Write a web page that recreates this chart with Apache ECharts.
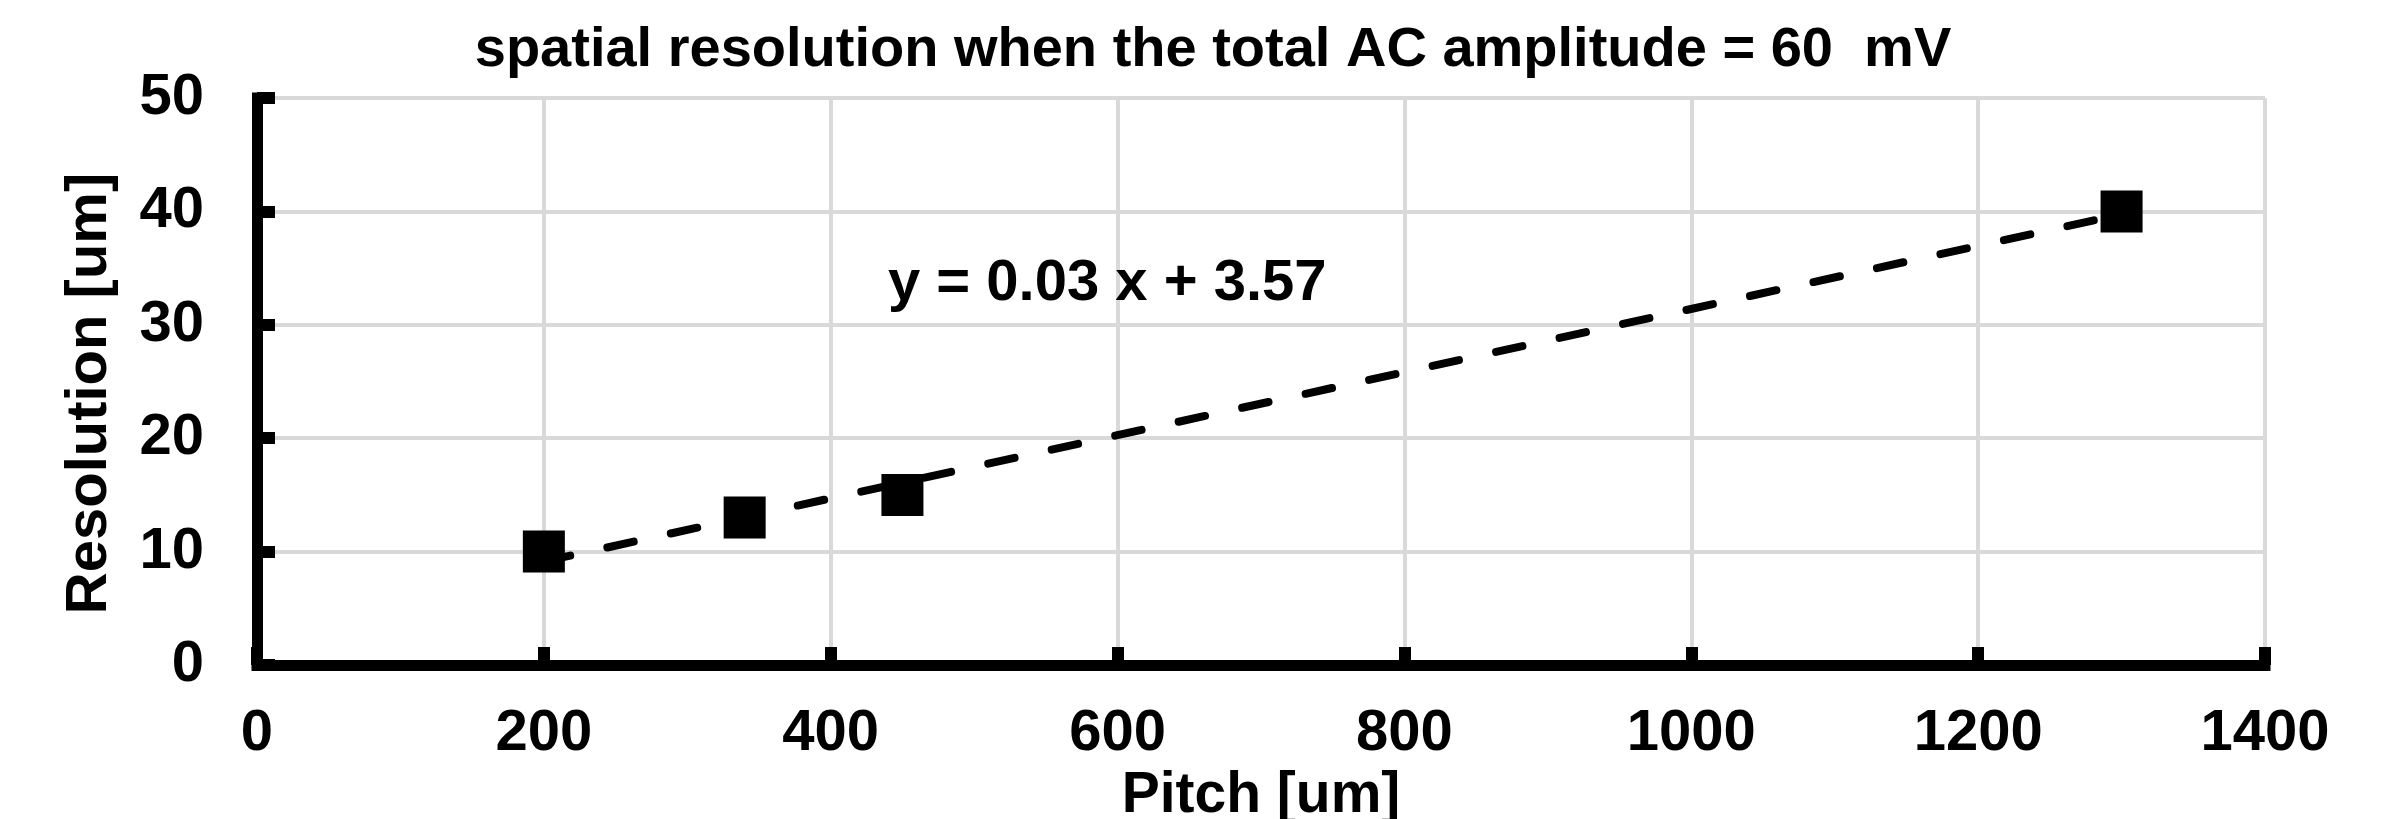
<!DOCTYPE html>
<html>
<head>
<meta charset="utf-8">
<script src="https://cdn.jsdelivr.net/npm/echarts@6/dist/echarts.min.js"></script>
<style>
  html, body { margin: 0; padding: 0; background: #ffffff; }
  #chart { width: 2401px; height: 819px; }
</style>
</head>
<body>
<div id="chart"></div>
<script>
// Measured pitch and resolution values
const pitch = [200, 340, 450, 1300];
const resolution = [10, 13, 15, 40];

// Axis ranges and ticks
const xTicks = [0, 200, 400, 600, 800, 1000, 1200, 1400];
const yTicks = [0, 10, 20, 30, 40, 50];

const titleText = 'spatial resolution when the total AC amplitude = 60  mV';
const xName = 'Pitch [um]';
const yName = 'Resolution [um]';

// Least-squares linear fit through the measured points
function linearFit(xs, ys) {
  const n = xs.length;
  const mx = xs.reduce((a, b) => a + b, 0) / n;
  const my = ys.reduce((a, b) => a + b, 0) / n;
  let sxx = 0, sxy = 0;
  for (let i = 0; i < n; i++) {
    sxx += (xs[i] - mx) * (xs[i] - mx);
    sxy += (xs[i] - mx) * (ys[i] - my);
  }
  const slope = sxy / sxx;
  return { slope: slope, intercept: my - slope * mx };
}

const fit = linearFit(pitch, resolution);
const xStart = Math.min(...pitch);
const xEnd = Math.max(...pitch);
const trend = [
  [xStart, fit.slope * xStart + fit.intercept],
  [xEnd, fit.slope * xEnd + fit.intercept]
];
const equation = 'y = ' + fit.slope.toFixed(2) + ' x + ' + fit.intercept.toFixed(2);

const FONT = '"Liberation Sans", Arial, Helvetica, sans-serif';
const chart = echarts.init(document.getElementById('chart'), null, { renderer: 'canvas' });

chart.setOption({
  backgroundColor: '#ffffff',
  animation: false,
  title: {
    text: titleText,
    left: 1208,
    top: 18,
    textAlign: 'center',
    textStyle: { fontFamily: FONT, fontWeight: 'bold', fontSize: 56, color: '#000000' }
  },
  grid: { left: 257, right: 136, top: 98, bottom: 154, containLabel: false, outerBoundsMode: 'none' },
  xAxis: {
    type: 'value',
    min: xTicks[0],
    max: xTicks[xTicks.length - 1],
    interval: xTicks[1] - xTicks[0],
    name: xName,
    nameLocation: 'middle',
    nameGap: 96,
    nameTextStyle: { fontFamily: FONT, fontWeight: 'bold', fontSize: 57, color: '#000000' },
    axisLine: { show: true, onZero: false, lineStyle: { color: '#000000', width: 11, cap: 'square' } },
    axisTick: { show: true, inside: true, length: 18, lineStyle: { color: '#000000', width: 12 } },
    axisLabel: {
      margin: 40, fontFamily: FONT, fontWeight: 'bold', fontSize: 58, color: '#000000',
      formatter: (v) => String(v)
    },
    splitLine: { show: true, lineStyle: { color: '#d9d9d9', width: 4 } }
  },
  yAxis: {
    type: 'value',
    min: yTicks[0],
    max: yTicks[yTicks.length - 1],
    interval: yTicks[1] - yTicks[0],
    name: yName,
    nameLocation: 'middle',
    nameGap: 138,
    nameRotate: 90,
    nameTextStyle: { fontFamily: FONT, fontWeight: 'bold', fontSize: 58, color: '#000000', padding: [0, 24, 0, 0] },
    axisLine: { show: true, onZero: false, lineStyle: { color: '#000000', width: 11, cap: 'square' } },
    axisTick: { show: true, inside: true, length: 18, lineStyle: { color: '#000000', width: 12 } },
    axisLabel: {
      margin: 53, fontFamily: FONT, fontWeight: 'bold', fontSize: 58, color: '#000000',
      formatter: (v) => String(v)
    },
    splitLine: { show: true, lineStyle: { color: '#d9d9d9', width: 4 } }
  },
  graphic: [{
    type: 'text',
    left: 888,
    top: 255,
    z: 10,
    style: {
      text: equation,
      fontFamily: FONT,
      fontWeight: 'bold',
      fontSize: 58,
      fill: '#000000'
    }
  }],
  series: [
    {
      name: 'trend',
      type: 'line',
      data: trend,
      symbol: 'none',
      silent: true,
      z: 3,
      lineStyle: { color: '#000000', width: 8, type: [27, 38], cap: 'round' }
    },
    {
      name: 'resolution',
      type: 'scatter',
      data: pitch.map((p, i) => [p, resolution[i]]),
      symbol: 'rect',
      symbolSize: 42,
      z: 4,
      itemStyle: { color: '#000000', opacity: 1 }
    }
  ]
});
</script>
</body>
</html>
